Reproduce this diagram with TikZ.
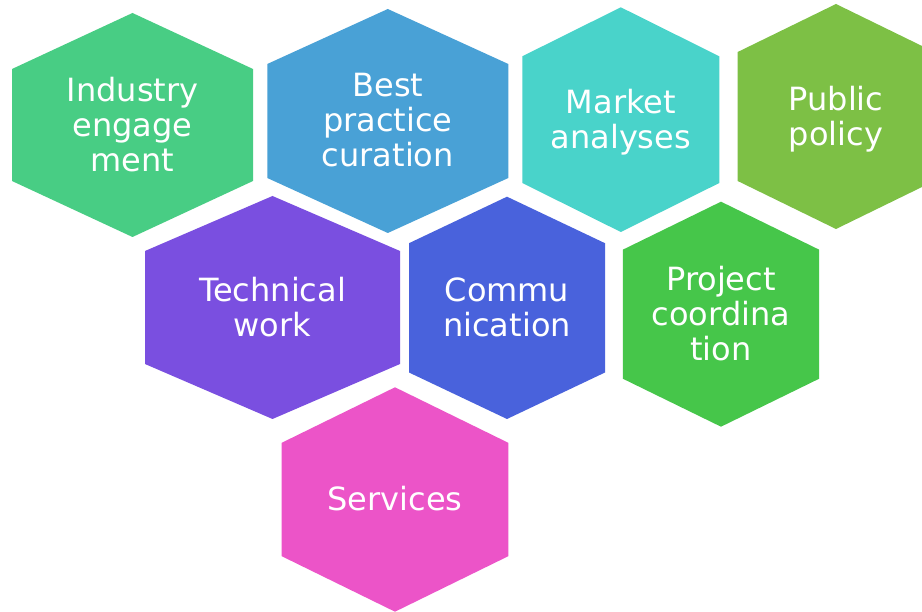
\documentclass[tikz,border=0pt]{standalone}
\usepackage{fontspec}
\setmainfont{DejaVu Sans}

% Fill colours of the cells
\definecolor{cIndustry}{RGB}{72,205,132}
\definecolor{cBest}{RGB}{73,161,214}
\definecolor{cMarket}{RGB}{73,211,202}
\definecolor{cPolicy}{RGB}{125,192,69}
\definecolor{cTech}{RGB}{122,79,224}
\definecolor{cComm}{RGB}{73,98,220}
\definecolor{cProject}{RGB}{70,198,74}
\definecolor{cServices}{RGB}{236,84,200}

% Line strut so every text line has the same box around its cap middle
\newcommand\ls{\rule[-0.32em]{0pt}{0.92em}}

% One hexagonal cell: name, centre x, top y, bottom y, half width,
% shoulder drop, colour, label
\newcommand\hexcell[8]{%
  \fill[#7] (#2,#3) -- (#2+#5,#3+#6) -- (#2+#5,#4-#6) -- (#2,#4)
    -- (#2-#5,#4-#6) -- (#2-#5,#3+#6) -- cycle;
  \node[celltext] (#1) at (#2,{(#3+#4)/2}) {#8};
}

\tikzset{
  celltext/.style={text=white, align=center, inner sep=0pt, yshift=-4pt,
    font={\fontsize{32}{35}\selectfont\lineskiplimit=-100pt}}
}

\begin{document}
\begin{tikzpicture}[x=1pt,y=-1pt]
  \fill[white] (0,0) rectangle (922,612);
  \useasboundingbox (0,0) rectangle (922,612);

  \hexcell{industry}{132.5}{13}{237}{120.5}{56}{cIndustry}{\ls Industry\\\ls engage\\\ls ment}
  \hexcell{best}{387.8}{9}{233}{120.5}{55}{cBest}{\ls Best\\\ls practice\\\ls curation}
  \hexcell{market}{620.8}{7.3}{232}{98.5}{49}{cMarket}{\ls Market\\\ls analyses}
  \hexcell{policy}{836}{4}{229}{98.3}{48}{cPolicy}{\ls Public\\\ls policy}
  \hexcell{tech}{272.5}{196}{419}{127.5}{55}{cTech}{\ls Technical\\\ls work}
  \hexcell{comm}{507}{196.7}{419}{98}{46.5}{cComm}{\ls Commu\\\ls nication}
  \hexcell{project}{721}{201.7}{426.7}{98.2}{48}{cProject}{\ls Project\\\ls coordina\\\ls tion}
  \hexcell{services}{395}{387.3}{611.7}{113.3}{55.5}{cServices}{\ls Services}
\end{tikzpicture}
\end{document}
